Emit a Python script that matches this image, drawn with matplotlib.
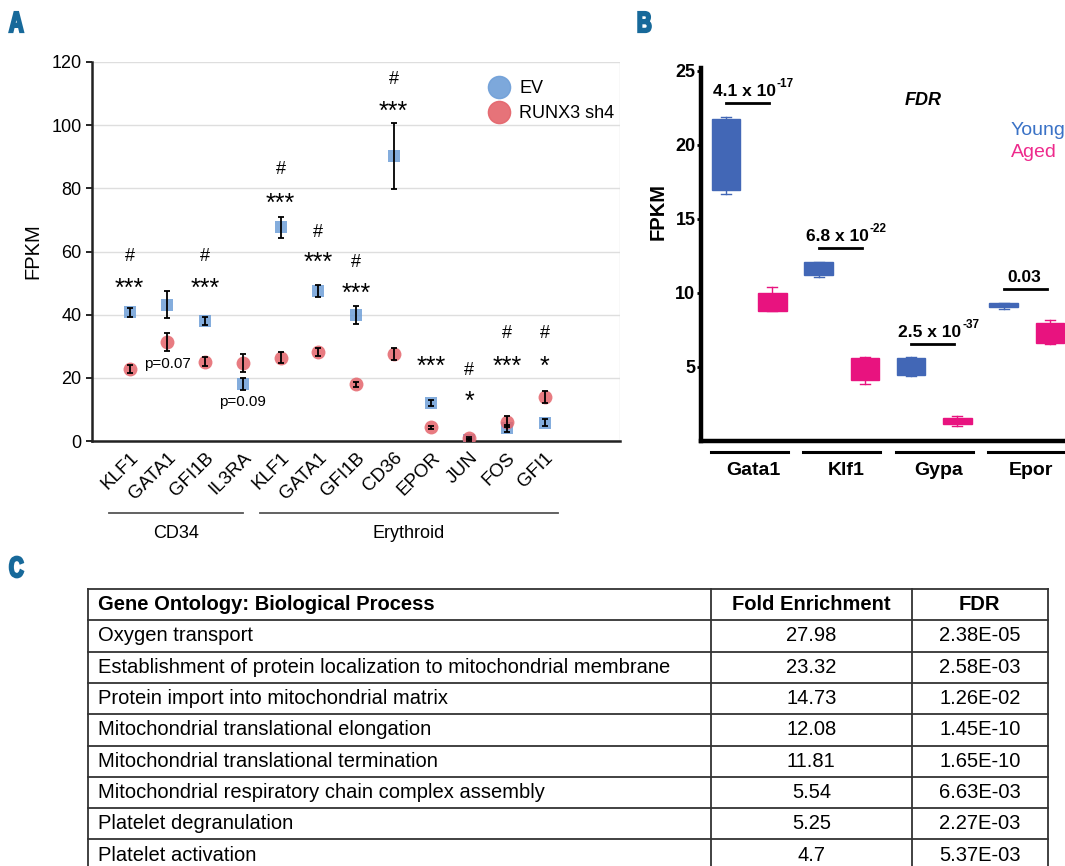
import matplotlib
matplotlib.use('Agg')
import matplotlib.pyplot as plt
import numpy as np
from matplotlib.lines import Line2D
from matplotlib.textpath import TextPath
from matplotlib.patches import PathPatch
from matplotlib.font_manager import FontProperties
import matplotlib.transforms as mtransforms

plt.rcParams['font.family'] = ['Liberation Sans', 'DejaVu Sans']

W, H = 1065, 866

# panel A data
genes_a = ['KLF1', 'GATA1', 'GFI1B', 'IL3RA', 'KLF1', 'GATA1', 'GFI1B',
           'CD36', 'EPOR', 'JUN', 'FOS', 'GFI1']
ev_mean = [40.7, 43.2, 38.0, 18.0, 67.6, 47.5, 39.9, 90.3, 12.0, 0.4, 4.0, 5.8]
ev_err = [1.5, 4.3, 1.3, 2.0, 3.2, 2.0, 2.8, 10.5, 1.0, 0.3, 1.0, 1.1]
sh4_mean = [22.7, 31.4, 25.1, 24.8, 26.4, 28.2, 17.9, 27.5, 4.4, 0.9, 6.1, 13.9]
sh4_err = [1.3, 2.8, 1.5, 2.8, 1.8, 1.2, 0.8, 1.9, 0.5, 0.3, 1.8, 1.8]
hash_y = [58.5, None, 58.5, None, 86, 66, 56.5, 114.6, None, 22.2, 34, 34]
stars = ['***', '', '***', '', '***', '***', '***', '***', '***', '*', '***', '*']
star_y = [51.8, None, 51.8, None, 78.7, 60, 50.2, 107.6, 27, 15.9, 27, 27]
pval_pos = [1, 3]
pval_y = [24.4, 12.4]
pval_txt = ['p=0.07', 'p=0.09']
group_names = ['CD34', 'Erythroid']
group_span = [(-0.55, 3.0), (3.45, 11.35)]

# panel B data (whislo, q1, med, q3, whishi)
genes_b = ['Gata1', 'Klf1', 'Gypa', 'Epor']
young_box = [[16.7, 16.95, 19.5, 21.75, 21.9],
             [11.1, 11.2, 11.6, 12.1, 12.1],
             [4.4, 4.46, 5.0, 5.6, 5.7],
             [8.9, 9.05, 9.15, 9.3, 9.35]]
aged_box = [[8.8, 8.8, 9.4, 10.0, 10.4],
            [3.85, 4.1, 5.0, 5.6, 5.7],
            [1.0, 1.15, 1.35, 1.55, 1.7],
            [6.55, 6.6, 7.3, 8.0, 8.2]]
fdr_base = ['4.1 x 10', '6.8 x 10', '2.5 x 10', '0.03']
fdr_exp = ['-17', '-22', '-37', '']
fdr_y = [22.85, 13.05, 6.55, 10.27]

# panel C data
go_header = ['Gene Ontology: Biological Process', 'Fold Enrichment', 'FDR']
go_terms = ['Oxygen transport',
            'Establishment of protein localization to mitochondrial membrane',
            'Protein import into mitochondrial matrix',
            'Mitochondrial translational elongation',
            'Mitochondrial translational termination',
            'Mitochondrial respiratory chain complex assembly',
            'Platelet degranulation',
            'Platelet activation']
fold_enr = ['27.98', '23.32', '14.73', '12.08', '11.81', '5.54', '5.25', '4.7']
go_fdr = ['2.38E-05', '2.58E-03', '1.26E-02', '1.45E-10', '1.65E-10',
          '6.63E-03', '2.27E-03', '5.37E-03']

blue = '#6f9fd8'
red = '#e4646b'
young_c = '#4267b6'
aged_c = '#e8137f'
lab_c = '#17699a'

fig = plt.figure(figsize=(W / 100, H / 100), dpi=100)

# ---------------- A
axA = fig.add_axes([92 / W, 1 - 441 / H, 528 / W, 379 / H])
x = np.arange(len(genes_a))
axA.scatter(x, ev_mean, marker='s', s=80, color=blue, alpha=0.85, lw=0, zorder=3)
axA.scatter(x, sh4_mean, marker='o', s=100, color=red, alpha=0.85, lw=0, zorder=4)
axA.errorbar(x, ev_mean, yerr=ev_err, fmt='none', ecolor='black', elinewidth=1.3,
             capsize=2.5, capthick=1.3, zorder=5)
axA.errorbar(x, sh4_mean, yerr=sh4_err, fmt='none', ecolor='black', elinewidth=1.3,
             capsize=2.5, capthick=1.3, zorder=5)
axA.set_xlim(-1, 13)
axA.set_ylim(0, 120)
axA.set_yticks(np.arange(0, 121, 20))
axA.set_xticks(x)
axA.set_xticklabels(genes_a, rotation=45, ha='right', va='top',
                    rotation_mode='anchor', fontsize=13.5)
axA.set_xticks(np.arange(-1, 14, 2), minor=True)
axA.tick_params(axis='x', which='both', length=0, pad=6)
axA.tick_params(axis='y', labelsize=13, length=4, width=1.2)
axA.grid(which='minor', axis='x', color='#dedede', lw=1)
axA.grid(which='major', axis='y', color='#dedede', lw=1)
axA.set_axisbelow(True)
for s in ['top', 'right']:
    axA.spines[s].set_visible(False)
for s in ['left', 'bottom']:
    axA.spines[s].set_linewidth(1.8)
    axA.spines[s].set_color('#222222')

for i in range(len(genes_a)):
    if hash_y[i] is not None:
        axA.text(i, hash_y[i], '#', ha='center', va='center', fontsize=13)
    if star_y[i] is not None:
        axA.text(i, star_y[i] - 3.5, stars[i], ha='center', va='center', fontsize=18)
for p, yv, t in zip(pval_pos, pval_y, pval_txt):
    axA.text(p, yv, t, ha='center', va='center', fontsize=11)

trA = mtransforms.blended_transform_factory(axA.transData, axA.transAxes)
for name, (a, b) in zip(group_names, group_span):
    axA.plot([a, b], [-0.19, -0.19], color='#555555', lw=1.3,
             transform=trA, clip_on=False)
    axA.text((a + b) / 2, -0.245, name, ha='center', va='center',
             fontsize=13, transform=trA)

handles = [Line2D([], [], marker='o', ls='none', ms=16, color=blue, alpha=0.9),
           Line2D([], [], marker='o', ls='none', ms=16, color=red, alpha=0.9)]
axA.legend(handles, ['EV', 'RUNX3 sh4'], loc='upper left',
           bbox_to_anchor=(0.705, 0.995), frameon=False, fontsize=13,
           handletextpad=0.15, labelspacing=0.45)
fig.text(33 / W, 1 - 251 / H, 'FPKM', rotation=90, ha='center', va='center',
         fontsize=14.5)

# ---------------- B
axB = fig.add_axes([701 / W, 1 - 441 / H, (W - 701) / W, 373 / H])
stats = []
cols = []
for k in range(len(genes_b)):
    for box, c in [(young_box[k], young_c), (aged_box[k], aged_c)]:
        stats.append(dict(whislo=box[0], q1=box[1], med=box[2], q3=box[3],
                          whishi=box[4]))
        cols.append(c)
pos = np.arange(len(stats))
bp = axB.bxp(stats, positions=pos, widths=0.62, showfliers=False,
             patch_artist=True, capwidths=0.22)
for i, c in enumerate(cols):
    bp['boxes'][i].set(facecolor=c, edgecolor=c, lw=1)
    bp['medians'][i].set(color=c, lw=0)
    for j in (2 * i, 2 * i + 1):
        bp['whiskers'][j].set(color=c, lw=1)
        bp['caps'][j].set(color=c, lw=1)
axB.set_xlim(-0.543, 7.326)
axB.set_ylim(0, 25.2)
axB.set_yticks([5, 10, 15, 20, 25])
axB.set_xticks([])
axB.tick_params(axis='y', length=3, width=2, labelsize=13, pad=1)
for lab in axB.get_yticklabels():
    lab.set_fontweight('bold')
for s in ['top', 'right']:
    axB.spines[s].set_visible(False)
for s in ['left', 'bottom']:
    axB.spines[s].set_linewidth(3.2)
    axB.spines[s].set_color('black')

for k in range(len(genes_b)):
    axB.plot([2 * k, 2 * k + 0.93], [fdr_y[k], fdr_y[k]], color='black', lw=2)
    if fdr_exp[k]:
        base = axB.text(2 * k - 0.28, fdr_y[k] + 0.45, fdr_base[k], ha='left',
                        va='baseline', fontsize=12.5, fontweight='bold')
        axB.annotate(fdr_exp[k], xy=(1.0, 0.62), xycoords=base,
                     xytext=(0.5, 0), textcoords='offset points', ha='left',
                     va='bottom', fontsize=8.5, fontweight='bold')
    else:
        axB.text(2 * k + 0.45, fdr_y[k] + 0.45, fdr_base[k], ha='center',
                 va='baseline', fontsize=12.5, fontweight='bold')

trB = mtransforms.blended_transform_factory(axB.transData, axB.transAxes)
for k, g in enumerate(genes_b):
    axB.plot([2 * k - 0.33, 2 * k + 1.33], [-0.03, -0.03], color='black', lw=2.2,
             transform=trB, clip_on=False)
    axB.text(2 * k + 0.6, -0.078, g, ha='center', va='center', fontsize=14,
             fontweight='bold', transform=trB)
axB.text(4.26, 23.0, 'FDR', ha='center', va='center', fontsize=13,
         fontweight='bold', style='italic')
axB.text(6.15, 21.0, 'Young', ha='left', va='center', fontsize=14, color='#3a72c6')
axB.text(6.15, 19.5, 'Aged', ha='left', va='center', fontsize=14, color='#ee2a8c')
fig.text(658 / W, 1 - 212 / H, 'FPKM', rotation=90, ha='center', va='center',
         fontsize=14.5, fontweight='bold')

# ---------------- C
n_rows = len(go_terms) + 1
axC = fig.add_axes([88 / W, 1 - (589 + 31.3 * n_rows) / H, 960 / W, 31.3 * n_rows / H])
axC.set_xlim(0, 1)
axC.set_ylim(n_rows, 0)
axC.axis('off')
col_edges = [0, 0.649, 0.858, 1]
for r in range(n_rows + 1):
    axC.plot([0, 1], [r, r], color='#333333', lw=1.3, clip_on=False)
for cx in col_edges:
    axC.plot([cx, cx], [0, n_rows], color='#333333', lw=1.3, clip_on=False)
rows = [go_header] + [[t, f, d] for t, f, d in zip(go_terms, fold_enr, go_fdr)]
for r, row in enumerate(rows):
    w = 'bold' if r == 0 else 'normal'
    axC.text(0.0104, r + 0.5, row[0], ha='left', va='center', fontsize=14.5, fontweight=w)
    axC.text((col_edges[1] + col_edges[2]) / 2, r + 0.5, row[1], ha='center',
             va='center', fontsize=14.5, fontweight=w)
    axC.text((col_edges[2] + col_edges[3]) / 2, r + 0.5, row[2], ha='center',
             va='center', fontsize=14.5, fontweight=w)

# panel letters, drawn as squeezed glyph paths to look condensed
fp = FontProperties(family='Liberation Sans', weight='bold')
for t, px, py in [('A', 9, 32), ('B', 637, 32), ('C', 9, 577)]:
    tp = TextPath((0, 0), t, size=29, prop=fp)
    tr = mtransforms.Affine2D().scale(0.7, 1.0).translate(px, H - py)
    fig.add_artist(PathPatch(tp, transform=tr, facecolor=lab_c, edgecolor=lab_c,
                             lw=1.6))

fig.savefig('out.png', dpi=100)
